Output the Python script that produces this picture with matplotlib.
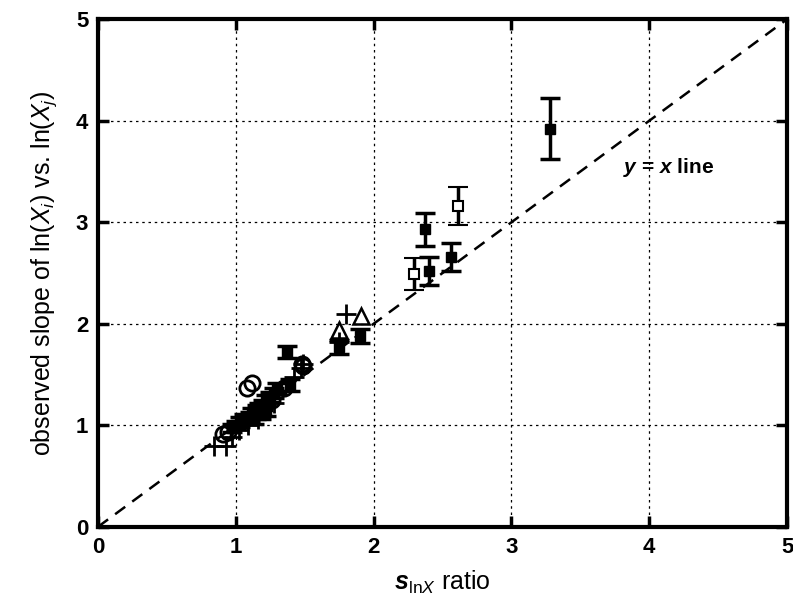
import matplotlib
matplotlib.use("Agg")
import matplotlib.pyplot as plt

plt.rcParams['font.family'] = ['Liberation Sans', 'DejaVu Sans']
plt.rcParams['mathtext.fontset'] = 'custom'
plt.rcParams['mathtext.rm'] = 'Liberation Sans'
plt.rcParams['mathtext.it'] = 'Liberation Sans:italic'
plt.rcParams['mathtext.bf'] = 'Liberation Sans:bold'
plt.rcParams['mathtext.bfit'] = 'Liberation Sans:italic:bold'

# filled squares with error bars
fill_x = [3.28, 2.37, 2.56, 2.40, 1.90, 1.75, 1.37, 1.39, 1.30, 1.28, 1.25, 1.22, 1.20,
          1.17, 1.15, 1.12, 1.10, 1.06, 1.03, 1.00, 0.97, 1.18, 1.22, 1.13]
fill_y = [3.92, 2.93, 2.66, 2.52, 1.88, 1.77, 1.72, 1.40, 1.37, 1.32, 1.28, 1.25, 1.20,
          1.17, 1.15, 1.12, 1.08, 1.06, 1.03, 1.00, 0.97, 1.10, 1.14, 1.05]
fill_err = [0.30, 0.16, 0.14, 0.14, 0.07, 0.07, 0.06, 0.06, 0.05, 0.05, 0.05, 0.05, 0.05,
            0.05, 0.05, 0.05, 0.05, 0.05, 0.05, 0.04, 0.04, 0.04, 0.05, 0.04]

# open squares with error bars
open_x = [2.61, 2.29]
open_y = [3.16, 2.49]
open_err = [0.19, 0.16]

# open triangles
tri_x = [1.91, 1.75]
tri_y = [2.08, 1.94]

# plus signs
plus_x = [1.80, 1.47, 1.42, 1.75, 0.84, 0.93, 0.97, 1.02, 1.16, 1.09, 1.28, 1.49]
plus_y = [2.10, 1.56, 1.48, 1.82, 0.80, 0.80, 0.88, 0.95, 1.06, 1.00, 1.22, 1.60]

# open circles
circ_x = [1.12, 1.08, 0.91, 0.94, 1.48, 1.49, 1.26, 1.35]
circ_y = [1.42, 1.37, 0.91, 0.93, 1.60, 1.58, 1.25, 1.37]

ticks = [0, 1, 2, 3, 4, 5]

fig = plt.figure(figsize=(7.93, 6.0), dpi=100)
ax = fig.add_axes([0.1236, 0.122, 0.869, 0.846])

ax.plot([0, 5], [0, 5], color='black', lw=1.8, ls=(0, (5, 3.5)), zorder=2)

ax.errorbar(fill_x, fill_y, yerr=fill_err, fmt='s', color='black', ms=7.5,
            elinewidth=2.5, capsize=7.5, capthick=2.5, zorder=4)
ax.errorbar(open_x, open_y, yerr=open_err, fmt='s', color='black', mfc='white',
            mew=1.5, ms=7, elinewidth=2.5, capsize=7.5, capthick=2.5, zorder=4)
ax.plot(tri_x, tri_y, '^', color='black', mfc='none', mew=1.8, ms=11, zorder=3)
ax.plot(plus_x, plus_y, '+', color='black', mew=2, ms=14, zorder=3)
ax.plot(circ_x, circ_y, 'o', color='black', mfc='none', mew=2, ms=11, zorder=3)

ax.text(3.81, 3.54, r"$\mathbfit{y}$ = $\mathbfit{x}$ line", fontsize=15,
        fontweight='bold', va='center', ha='left')

ax.set_xlim(0, 5)
ax.set_ylim(0, 5)
ax.set_xticks(ticks)
ax.set_yticks(ticks)
ax.grid(True, color='black', ls=(0, (2, 3)), lw=0.9)
ax.set_axisbelow(True)

for sp in ax.spines.values():
    sp.set_linewidth(3)
ax.tick_params(direction='in', length=8, width=2.5, top=True, right=True,
               labelsize=16, pad=7)
for lab in ax.get_xticklabels() + ax.get_yticklabels():
    lab.set_fontweight('bold')

ax.set_xlabel(r"$\mathbfit{s}_{\mathrm{ln}\mathit{X}}$ ratio", fontsize=18, labelpad=8)
ax.set_ylabel(r"observed slope of ln($\mathit{X}_{\mathit{i}}$) vs. ln($\mathit{X}_{\mathit{j}}$)",
              fontsize=18, labelpad=12)

fig.savefig("out.png", dpi=100)
